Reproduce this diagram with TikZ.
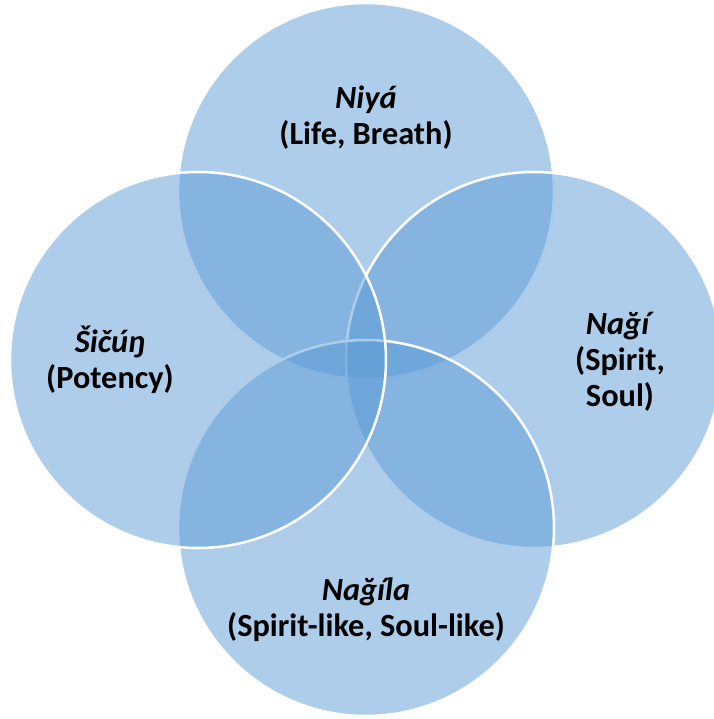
\documentclass[tikz,border=0pt]{standalone}
\usepackage{fontspec}
\setmainfont{Carlito}
\usepackage{tikz}
\usetikzlibrary{positioning}
\definecolor{petal}{HTML}{5B9BD5}

\begin{document}
\begin{tikzpicture}[font=\fontsize{23}{25.6}\selectfont\bfseries,
  ring/.style={circle,draw=white,line width=1.8pt,fill=petal,fill opacity=0.5,minimum size=9.4cm,inner sep=0pt},
  lab/.style={align=center,text=black,inner sep=0pt}]
\useasboundingbox (0,0) rectangle (17.825,-17.975);
\node[ring] (top) at (9.15,-4.775) {};
\node[ring] (right) at (13.35,-9.0) {};
\node[ring] (bottom) at (9.15,-13.2) {};
\node[ring] (left) at (4.95,-9.0) {};
\node[lab] (ltop) at (9.15,-2.95) {\textit{Niyá}\\(Life, Breath)};
\node[lab] (lleft) at (2.75,-9.0) {\textit{Šičúŋ}\\(Potency)};
\node[lab] (lright) at (15.5,-9.05) {\textit{Nağí}\\(Spirit,\\Soul)};
\node[lab] (lbottom) at (9.15,-15.25) {\textit{Nağíla}\\(Spirit-like, Soul-like)};
\end{tikzpicture}
\end{document}
